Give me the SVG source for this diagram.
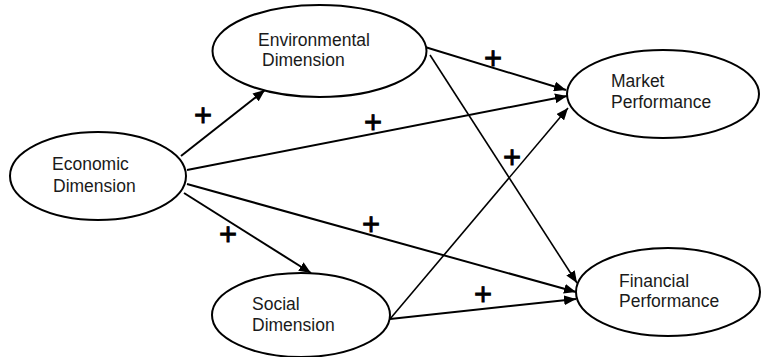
<svg xmlns="http://www.w3.org/2000/svg" width="762" height="357" viewBox="0 0 762 357">
<style>
.n{fill:#fff;stroke:#000;stroke-width:2}
.t{font-family:"Liberation Sans",Arial,sans-serif;font-size:17.5px;fill:#1a1a1a}
.c{stroke:#000;stroke-width:2;fill:none;marker-end:url(#ah)}
.thin{stroke-width:1.6}
.p{font-family:"Liberation Sans",Arial,sans-serif;font-size:31px;fill:#000;stroke:#000;stroke-width:0.8;text-anchor:middle}
</style>
<defs>
<marker id="ah" viewBox="0 0 12 10" refX="12" refY="5" markerWidth="12" markerHeight="10" markerUnits="userSpaceOnUse" orient="auto">
<path d="M0,0 L12,5 L0,10 z" fill="#000"/>
</marker>
</defs>
<g id="connectors">
<line class="c" x1="181" y1="156" x2="265" y2="90"/>
<line class="c" x1="187" y1="170" x2="567" y2="96"/>
<line class="c" x1="187" y1="184" x2="576" y2="292"/>
<line class="c" x1="184" y1="193" x2="311" y2="273"/>
<line class="c" x1="425" y1="47" x2="566" y2="90"/>
<line class="c thin" x1="430" y1="55" x2="577" y2="283"/>
<line class="c thin" x1="390" y1="319" x2="568" y2="108"/>
<line class="c" x1="390" y1="319" x2="576" y2="299"/>
</g>
<g id="signs">
<text class="p" x="203" y="126">+</text>
<text class="p" x="373" y="133">+</text>
<text class="p" x="228" y="245">+</text>
<text class="p" x="371" y="235">+</text>
<text class="p" x="493" y="69">+</text>
<text class="p" x="512" y="168">+</text>
<text class="p" x="483" y="305">+</text>
</g>
<g id="economic">
<ellipse class="n" cx="98" cy="176" rx="88" ry="44"/>
<text class="t" x="52" y="170">Economic</text>
<text class="t" x="53" y="192">Dimension</text>
</g>
<g id="environmental">
<ellipse class="n" cx="319.5" cy="51" rx="107" ry="46"/>
<text class="t" x="258" y="46">Environmental</text>
<text class="t" x="262" y="66">Dimension</text>
</g>
<g id="social">
<ellipse class="n" cx="301" cy="315" rx="89" ry="42"/>
<text class="t" x="252" y="310">Social</text>
<text class="t" x="252" y="331">Dimension</text>
</g>
<g id="market">
<ellipse class="n" cx="663" cy="94" rx="96" ry="44"/>
<text class="t" x="611" y="87">Market</text>
<text class="t" x="611" y="108">Performance</text>
</g>
<g id="financial">
<ellipse class="n" cx="668" cy="292" rx="92" ry="44"/>
<text class="t" x="619" y="287">Financial</text>
<text class="t" x="619" y="307">Performance</text>
</g>
</svg>
